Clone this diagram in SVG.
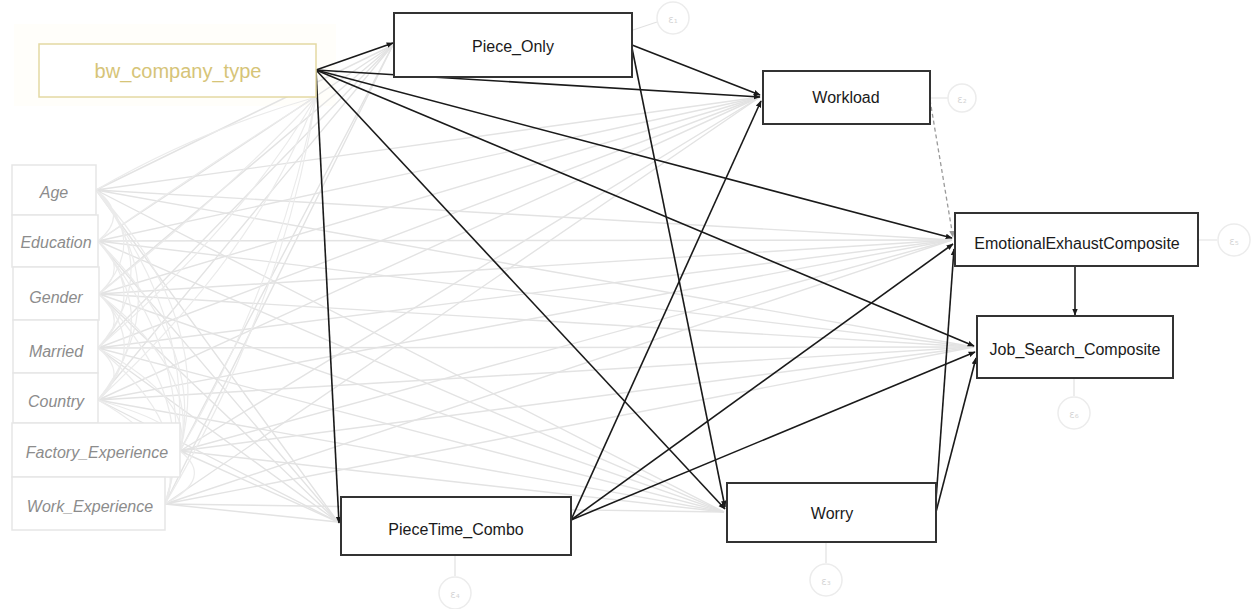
<svg xmlns="http://www.w3.org/2000/svg" width="1253" height="609" viewBox="0 0 1253 609">
<style>
.bg{fill:#ffffff}
.exo rect{fill:#ffffff;stroke:#e6e6e6;stroke-width:1.5}
.exo text{font-family:"Liberation Sans",Arial,sans-serif;font-style:italic;font-size:16px;fill:#8c8c8c;text-anchor:middle;dominant-baseline:central}
.endo rect{fill:#ffffff;stroke:#333333;stroke-width:2}
.endo text{font-family:"Liberation Sans",Arial,sans-serif;font-size:16px;fill:#1a1a1a;text-anchor:middle;dominant-baseline:central}
.gl{stroke:#e3e3e3;stroke-width:1.4;fill:none}
.cov{stroke:#ebebeb;stroke-width:1.2;fill:none}
.bl{stroke:#1a1a1a;stroke-width:1.6;fill:none;marker-end:url(#ah)}
.dg{stroke:#9a9a9a;stroke-width:1.3;fill:none;stroke-dasharray:4 3;marker-end:url(#ahg)}
.err circle{fill:#ffffff;stroke:#ececec;stroke-width:1.5}
.err text{font-family:"DejaVu Sans",sans-serif;font-size:10px;fill:#d6d6d6;text-anchor:middle;dominant-baseline:central}
.el{stroke:#e2e2e2;stroke-width:1.2;fill:none}
</style>
<defs>
<marker id="ah" viewBox="0 0 10 10" refX="9" refY="5" markerWidth="7" markerHeight="7" orient="auto" markerUnits="userSpaceOnUse">
<path d="M0,1 L10,5 L0,9 z" fill="#1a1a1a"/>
</marker>
<marker id="ahg" viewBox="0 0 10 10" refX="9" refY="5" markerWidth="7" markerHeight="7" orient="auto" markerUnits="userSpaceOnUse">
<path d="M0,1 L10,5 L0,9 z" fill="#9a9a9a"/>
</marker>
</defs>
<rect class="bg" x="0" y="0" width="1253" height="609"/>
<rect x="14" y="24" width="322" height="82" fill="#fffefa"/>

<g id="connectors">
<g id="gray-paths">
<path class="gl" d="M96,190 L393,45 M96,190 L760,97 M96,190 L952,240 M96,190 L974,347 M96,190 L338,522 M96,190 L724,512"/>
<path class="gl" d="M98,241 L393,45 M98,241 L760,97 M98,241 L952,240 M98,241 L974,347 M98,241 L338,522 M98,241 L724,512"/>
<path class="gl" d="M99,294 L393,45 M99,294 L760,97 M99,294 L952,240 M99,294 L974,347 M99,294 L338,522 M99,294 L724,512"/>
<path class="gl" d="M98,348 L393,45 M98,348 L760,97 M98,348 L952,240 M98,348 L974,347 M98,348 L338,522 M98,348 L724,512"/>
<path class="gl" d="M98,400 L393,45 M98,400 L760,97 M98,400 L952,240 M98,400 L974,347 M98,400 L338,522 M98,400 L724,512"/>
<path class="gl" d="M180,451 L393,45 M180,451 L760,97 M180,451 L952,240 M180,451 L974,347 M180,451 L338,522 M180,451 L724,512"/>
<path class="gl" d="M165,504 L393,45 M165,504 L760,97 M165,504 L952,240 M165,504 L974,347 M165,504 L338,522 M165,504 L724,512"/>
</g>
<g id="covariances">
<path class="cov" d="M96,190 Q130,215 98,241 M96,190 Q150,242 99,294 M96,190 Q165,269 98,348 M96,190 Q180,295 98,400 M96,190 Q215,320 180,451 M96,190 Q215,347 165,504"/>
<path class="cov" d="M98,241 Q130,268 99,294 M98,241 Q150,295 98,348 M98,241 Q165,320 98,400 M98,241 Q205,346 180,451 M98,241 Q205,372 165,504"/>
<path class="cov" d="M99,294 Q130,321 98,348 M99,294 Q150,347 98,400 M99,294 Q200,372 180,451 M99,294 Q200,399 165,504"/>
<path class="cov" d="M98,348 Q130,374 98,400 M98,348 Q195,400 180,451 M98,348 Q195,426 165,504"/>
<path class="cov" d="M98,400 Q190,426 180,451 M98,400 Q190,452 165,504"/>
<path class="cov" d="M180,451 Q215,478 165,504"/>
<path class="cov" d="M316,97 Q200,130 96,190 M316,97 Q215,160 98,241 M316,97 Q230,190 99,294 M316,97 Q245,220 98,348 M316,97 Q260,250 98,400 M316,97 Q280,280 180,451 M316,97 Q285,300 165,504"/>
</g>
<g id="error-links">
<path class="el" d="M657,22 L633,30 M948,98 L931,98 M1217,240 L1199,240 M1074,396 L1074,379 M455,576 L455,556 M826,563 L826,543"/>
</g>
<g id="black-paths">
<path class="bl" d="M316,70 L393,43"/>
<path class="bl" d="M316,70 L760,97"/>
<path class="bl" d="M316,70 L952,238"/>
<path class="bl" d="M316,70 L974,346"/>
<path class="bl" d="M316,70 L339,523"/>
<path class="bl" d="M316,70 L725,509"/>
<path class="bl" d="M632,45 L760,95"/>
<path class="bl" d="M632,48 L725,507"/>
<path class="bl" d="M571,520 L761,101"/>
<path class="bl" d="M571,520 L953,244"/>
<path class="bl" d="M571,520 L975,352"/>
<path class="dg" d="M930,100 L953,237"/>
<path class="bl" d="M936,500 L954,249"/>
<path class="bl" d="M936,512 L976,358"/>
<path class="bl" d="M1075,266 L1075,315"/>
</g>
</g>

<g id="node-bw_company_type">
<rect x="39" y="44" width="277" height="53" fill="#ffffff" stroke="#e4d9a3" stroke-width="1.5"/>
<text x="178" y="71" font-family="Liberation Sans,Arial,sans-serif" font-size="20" fill="#d6c478" text-anchor="middle" dominant-baseline="central">bw_company_type</text>
</g>
<g id="node-Age" class="exo"><rect x="12" y="165" width="84" height="50"/><text x="54" y="192">Age</text></g>
<g id="node-Education" class="exo"><rect x="12" y="215" width="86" height="52"/><text x="56" y="242">Education</text></g>
<g id="node-Gender" class="exo"><rect x="13" y="267" width="86" height="53"/><text x="56" y="297">Gender</text></g>
<g id="node-Married" class="exo"><rect x="13" y="320" width="85" height="53"/><text x="56" y="351">Married</text></g>
<g id="node-Country" class="exo"><rect x="13" y="373" width="85" height="50"/><text x="56" y="401">Country</text></g>
<g id="node-Factory_Experience" class="exo"><rect x="12" y="423" width="168" height="54"/><text x="97" y="452">Factory_Experience</text></g>
<g id="node-Work_Experience" class="exo"><rect x="12" y="477" width="153" height="53"/><text x="90" y="506">Work_Experience</text></g>

<g id="node-Piece_Only" class="endo"><rect x="394" y="13" width="238" height="64"/><text x="513" y="46">Piece_Only</text></g>
<g id="node-Workload" class="endo"><rect x="763" y="71" width="167" height="53"/><text x="846" y="97">Workload</text></g>
<g id="node-EmotionalExhaustComposite" class="endo"><rect x="955" y="213" width="243" height="53"/><text x="1077" y="243">EmotionalExhaustComposite</text></g>
<g id="node-Job_Search_Composite" class="endo"><rect x="977" y="316" width="196" height="62"/><text x="1075" y="349">Job_Search_Composite</text></g>
<g id="node-PieceTime_Combo" class="endo"><rect x="341" y="497" width="230" height="58"/><text x="456" y="529">PieceTime_Combo</text></g>
<g id="node-Worry" class="endo"><rect x="727" y="483" width="209" height="59"/><text x="832" y="513">Worry</text></g>

<g id="err-Piece_Only" class="err"><circle cx="673" cy="18" r="16"/><text x="673" y="19">ε₁</text></g>
<g id="err-Workload" class="err"><circle cx="962" cy="98" r="14"/><text x="962" y="99">ε₂</text></g>
<g id="err-EmotionalExhaustComposite" class="err"><circle cx="1234" cy="240" r="16"/><text x="1234" y="241">ε₅</text></g>
<g id="err-Job_Search_Composite" class="err"><circle cx="1074" cy="413" r="16"/><text x="1074" y="414">ε₆</text></g>
<g id="err-PieceTime_Combo" class="err"><circle cx="455" cy="593" r="16"/><text x="455" y="594">ε₄</text></g>
<g id="err-Worry" class="err"><circle cx="826" cy="580" r="16"/><text x="826" y="581">ε₃</text></g>
</svg>
